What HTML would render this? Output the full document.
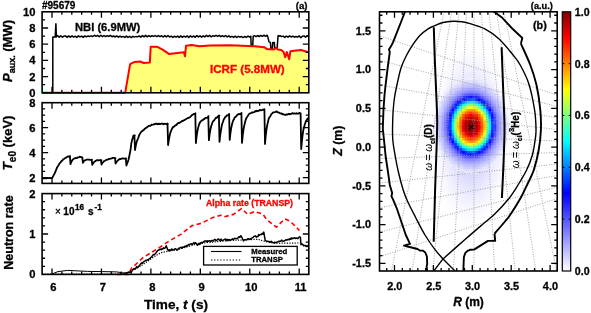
<!DOCTYPE html>
<html><head><meta charset="utf-8"><style>html,body{margin:0;padding:0;background:#fff;width:591px;height:313px;overflow:hidden;position:relative}svg{will-change:transform}text{stroke-width:0.3px}text:not([stroke]){stroke:#000}</style></head><body>
<svg width="591" height="313" viewBox="0 0 591 313" style="position:absolute;left:0;top:0">
<g font-family='"Liberation Sans", sans-serif'>
<polygon points="42.10,92.80 125.20,92.80 130.10,64.10 134.60,61.90 140.20,61.50 143.60,63.00 149.80,62.60 150.70,47.00 151.40,46.70 157.00,46.70 162.60,49.60 169.30,54.10 177.10,53.00 183.80,52.30 185.00,56.30 186.00,45.80 191.70,45.10 199.50,46.30 210.00,45.60 230.00,45.30 254.60,46.20 264.20,47.20 267.00,49.10 272.80,49.60 276.70,48.10 278.00,49.60 281.20,50.00 283.60,52.00 285.20,57.20 286.80,52.00 289.20,59.20 290.40,51.20 294.00,50.80 301.10,50.00 307.50,52.00 308.80,52.00 308.80,92.80" fill="#ffff78" stroke="none"/>
<polyline points="42.10,92.80 52.80,92.80 52.80,37.00 55.20,37.00 55.90,23.80 56.40,37.00 56.00,36.80 57.60,35.65 59.20,37.17 60.80,35.73 62.40,37.22 64.00,36.05 65.60,35.88 67.20,37.33 68.80,35.92 70.40,37.30 72.00,35.94 73.60,37.04 75.20,36.15 76.80,37.49 78.40,35.85 80.00,36.96 81.60,36.08 83.20,37.34 84.80,35.90 86.40,36.81 88.00,36.05 89.60,36.43 91.20,35.84 92.80,36.49 94.40,35.25 96.00,36.30 97.60,35.32 99.20,36.77 100.80,35.23 102.40,36.64 104.00,35.61 105.60,36.56 107.20,35.64 108.80,36.46 110.40,35.42 112.00,36.70 113.60,36.00 115.20,36.99 116.80,35.88 118.40,37.23 120.00,36.09 121.60,37.13 123.20,36.42 124.80,37.47 126.40,36.07 128.00,37.40 129.60,36.25 131.20,37.57 132.80,36.34 134.40,37.08 136.00,36.41 137.60,36.85 139.20,35.89 140.80,37.16 142.40,35.56 144.00,36.83 145.60,35.35 147.20,36.83 148.80,35.74 150.40,36.66 152.00,35.74 153.60,36.43 155.20,35.59 156.80,36.62 158.40,35.53 160.00,36.57 161.60,35.78 163.20,37.00 164.80,35.63 166.40,36.92 168.00,35.47 169.60,37.09 171.20,36.02 172.80,37.43 174.40,36.28 176.00,37.06 177.60,36.08 179.20,37.42 180.80,35.89 182.40,37.32 184.00,36.02 185.60,37.07 187.20,35.91 188.80,37.48 190.40,35.89 192.00,37.02 193.60,35.96 195.20,37.33 196.80,35.61 198.40,36.89 200.00,35.79 201.60,37.06 203.20,35.85 204.80,36.93 206.40,35.37 208.00,36.53 209.60,35.37 211.20,36.82 212.80,35.77 214.40,36.32 216.00,35.26 217.60,36.44 219.20,35.38 220.80,36.71 222.40,35.75 224.00,36.69 225.60,35.48 227.20,36.94 228.80,35.87 230.40,37.18 232.00,36.41 233.60,37.38 235.20,36.20 236.80,37.40 238.40,36.36 240.00,37.04 241.60,36.53 243.20,37.53 244.80,36.46 246.40,37.47 248.00,36.04 249.60,37.09 250.80,36.20 251.20,46.20 252.70,46.20 253.20,36.20 254.40,35.55 256.00,36.58 257.60,35.51 259.20,36.51 260.80,35.48 262.40,36.33 264.00,35.15 265.60,36.33 267.20,35.18 268.00,37.60 269.00,41.90 270.40,42.40 270.90,48.60 272.30,48.60 272.80,42.40 274.30,42.40 274.70,48.10 277.10,48.10 278.10,35.50 278.40,36.66 280.00,35.63 281.60,36.64 283.20,36.11 284.80,37.39 286.40,35.98 288.00,37.16 289.60,35.84 291.20,36.99 292.80,36.10 294.40,37.17 296.00,36.48 297.60,37.11 299.20,35.90 300.80,37.63 302.40,36.20 304.00,35.88 305.60,37.21 307.20,35.68 308.80,36.60" fill="none" stroke="#000" stroke-width="1.5" stroke-linejoin="round" stroke-linecap="butt" />
<polyline points="42.10,92.80 125.20,92.80 130.10,64.10 134.60,61.90 140.20,61.50 143.60,63.00 149.80,62.60 150.70,47.00 151.40,46.70 157.00,46.70 162.60,49.60 169.30,54.10 177.10,53.00 183.80,52.30 185.00,56.30 186.00,45.80 191.70,45.10 199.50,46.30 210.00,45.60 230.00,45.30 254.60,46.20 264.20,47.20 267.00,49.10 272.80,49.60 276.70,48.10 278.00,49.60 281.20,50.00 283.60,52.00 285.20,57.20 286.80,52.00 289.20,59.20 290.40,51.20 294.00,50.80 301.10,50.00 307.50,52.00 308.80,52.00" fill="none" stroke="#ff0000" stroke-width="2.0" stroke-linejoin="round" stroke-linecap="butt" />
<path d="M42.1,76.60h6M308.8,76.60h-6M42.1,60.40h6M308.8,60.40h-6M42.1,44.20h6M308.8,44.20h-6M42.1,28.00h6M308.8,28.00h-6M42.1,84.70h3M308.8,84.70h-3M42.1,68.50h3M308.8,68.50h-3M42.1,52.30h3M308.8,52.30h-3M42.1,36.10h3M308.8,36.10h-3M42.1,19.90h3M308.8,19.90h-3M52.00,11.8v6M52.00,92.8v-6M101.44,11.8v6M101.44,92.8v-6M150.88,11.8v6M150.88,92.8v-6M200.32,11.8v6M200.32,92.8v-6M249.76,11.8v6M249.76,92.8v-6M299.20,11.8v6M299.20,92.8v-6M61.89,11.8v3M61.89,92.8v-3M71.78,11.8v3M71.78,92.8v-3M81.66,11.8v3M81.66,92.8v-3M91.55,11.8v3M91.55,92.8v-3M111.33,11.8v3M111.33,92.8v-3M121.22,11.8v3M121.22,92.8v-3M131.10,11.8v3M131.10,92.8v-3M140.99,11.8v3M140.99,92.8v-3M160.77,11.8v3M160.77,92.8v-3M170.66,11.8v3M170.66,92.8v-3M180.54,11.8v3M180.54,92.8v-3M190.43,11.8v3M190.43,92.8v-3M210.21,11.8v3M210.21,92.8v-3M220.10,11.8v3M220.10,92.8v-3M229.98,11.8v3M229.98,92.8v-3M239.87,11.8v3M239.87,92.8v-3M259.65,11.8v3M259.65,92.8v-3M269.54,11.8v3M269.54,92.8v-3M279.42,11.8v3M279.42,92.8v-3M289.31,11.8v3M289.31,92.8v-3" stroke="#000" stroke-width="1.3" fill="none"/>
<rect x="42.1" y="11.8" width="266.70" height="81.00" fill="none" stroke="#000" stroke-width="1.6"/>
<text x="75" y="30.7" font-size="11.2" text-anchor="start" fill="#000" stroke="#000" font-weight="bold"  style="">NBI (6.9MW)</text>
<text x="210" y="73" font-size="11.6" text-anchor="start" fill="#ff0000" stroke="#ff0000" font-weight="bold"  style="">ICRF (5.8MW)</text>
<polyline points="42.10,178.13 42.80,178.38 43.50,178.34 44.20,178.25 44.90,178.10 45.60,178.38 46.30,178.37 47.00,178.21 47.70,178.19 48.40,178.04 49.10,177.91 49.80,178.08 50.50,178.18 51.20,177.90 51.90,178.25 52.60,177.23 53.30,175.94 54.00,174.56 54.70,173.39 55.40,171.57 56.10,169.94 56.80,168.19 57.50,166.74 58.20,165.73 58.90,164.66 59.60,163.30 60.30,162.79 61.00,161.75 61.70,160.89 62.40,160.46 63.10,159.36 63.80,159.06 64.50,158.45 65.20,158.12 65.90,157.64 66.60,157.33 67.30,156.80 68.00,156.44 68.70,156.64 69.40,156.11 70.10,156.16 69.90,156.09 70.50,164.20 70.51,164.02 71.21,162.35 71.91,160.87 72.61,159.81 73.31,159.14 74.01,158.62 74.71,158.43 75.41,157.99 76.11,158.13 76.81,158.14 77.51,157.48 78.21,157.53 78.91,157.22 79.61,156.71 80.31,156.82 81.01,157.05 81.71,157.22 82.41,157.73 82.30,157.41 82.90,162.90 82.91,162.82 83.61,161.40 84.31,160.59 85.01,160.33 85.71,160.12 86.41,159.66 87.11,159.56 87.81,159.58 88.51,159.72 89.21,159.54 89.91,159.85 90.61,159.81 91.31,159.82 92.01,159.59 91.70,159.66 92.30,164.90 92.31,164.71 93.01,163.41 93.71,162.69 94.41,161.68 95.11,161.28 95.81,160.76 96.51,160.40 97.21,160.19 97.91,160.44 98.61,160.33 99.31,160.08 100.01,160.20 100.71,160.17 101.41,160.28 100.90,159.98 101.50,164.30 101.51,164.51 102.21,163.00 102.91,162.38 103.61,161.69 104.31,160.99 105.01,160.74 105.71,160.25 106.41,159.95 107.11,159.68 107.81,159.72 108.51,159.11 109.21,158.82 109.91,158.97 110.61,158.74 111.31,158.39 112.01,158.37 112.71,157.78 113.41,157.86 114.11,157.98 114.81,158.15 115.51,158.13 115.00,158.21 115.60,163.70 115.61,163.46 116.31,162.13 117.01,161.34 117.71,160.61 118.41,159.93 119.11,159.38 119.81,158.97 120.51,159.11 121.21,158.73 121.91,158.72 122.61,158.29 123.31,158.32 124.01,158.59 124.71,158.53 125.41,158.55 126.11,158.40 125.80,158.30 126.40,165.60 126.41,165.53 127.11,163.40 127.81,161.84 128.51,159.80 129.21,156.51 129.91,153.00 130.61,149.30 131.31,143.33 132.01,140.12 132.71,138.37 133.41,135.57 134.11,135.50 134.81,135.49 134.40,135.20 135.00,149.80 135.01,150.06 135.71,146.03 136.41,142.76 137.11,140.54 137.81,139.04 138.51,137.27 139.21,135.13 139.91,133.86 140.61,132.78 141.31,131.77 142.01,131.29 142.71,130.31 143.41,130.35 144.11,129.59 144.81,128.58 145.51,128.44 146.21,127.75 146.91,127.42 147.61,126.70 148.31,126.25 149.01,125.92 149.71,125.76 150.41,125.73 151.11,125.26 151.81,124.48 152.51,124.75 153.21,124.57 153.91,124.26 154.61,124.26 155.31,123.55 156.01,123.95 156.71,123.59 157.41,124.21 158.11,123.67 158.81,124.15 159.51,123.73 160.21,124.13 160.91,123.77 161.61,123.52 162.31,123.83 163.01,123.75 163.71,124.28 164.41,123.73 165.11,123.91 165.81,123.95 166.51,124.30 167.21,123.54 167.91,123.99 167.50,123.90 168.10,145.00 168.11,144.93 168.81,140.20 169.51,136.64 170.21,133.18 170.91,131.35 171.61,129.53 172.31,128.30 173.01,126.89 173.71,126.84 174.41,126.44 175.11,125.47 175.81,125.07 176.51,125.09 177.21,123.76 177.91,123.25 178.61,122.80 179.31,123.04 180.01,122.59 180.71,121.93 181.41,121.71 182.11,120.80 182.81,121.01 183.51,120.47 184.21,120.18 184.91,119.72 185.61,119.39 186.31,118.88 187.01,118.38 187.71,118.39 188.41,117.82 189.11,117.69 189.81,117.25 190.51,116.62 191.21,115.84 191.91,115.10 192.61,114.69 193.31,114.24 194.01,113.91 194.71,114.14 195.41,113.28 195.30,113.66 195.90,143.10 195.91,142.97 196.61,136.48 197.31,131.82 198.01,128.36 198.71,125.60 199.41,123.54 200.11,122.28 200.81,121.26 201.51,120.81 202.21,120.29 202.91,120.10 203.61,119.11 204.31,119.14 205.01,118.17 205.71,117.95 206.41,117.77 207.11,117.56 207.81,117.28 208.51,116.11 208.30,116.38 208.90,140.20 208.91,139.94 209.61,134.37 210.31,130.19 211.01,126.75 211.71,124.67 212.41,122.39 213.11,121.19 213.81,120.71 214.51,119.74 215.21,118.81 215.91,117.74 216.61,117.87 217.31,117.11 218.01,116.19 218.71,115.88 219.41,115.78 218.90,115.41 219.50,141.90 219.51,141.96 220.21,135.16 220.91,130.85 221.61,126.48 222.31,123.48 223.01,121.73 223.71,119.40 224.41,118.56 225.11,117.10 225.81,116.65 226.51,115.73 227.21,115.33 227.91,115.43 228.61,114.69 229.31,114.40 229.10,113.86 229.70,139.80 229.71,139.81 230.41,133.42 231.11,128.68 231.81,125.33 232.51,122.54 233.21,120.41 233.91,119.54 234.61,117.49 235.31,117.19 236.01,116.52 236.71,115.70 237.41,114.59 238.11,114.63 238.81,113.90 239.51,114.16 240.21,114.03 240.91,113.43 241.61,113.06 241.40,113.26 242.00,142.90 242.01,142.82 242.71,135.35 243.41,130.13 244.11,126.10 244.81,123.30 245.51,120.37 246.21,118.26 246.91,117.38 247.61,116.27 248.31,115.11 249.01,113.98 249.71,113.55 250.41,113.25 251.11,112.99 251.81,112.35 252.51,112.59 253.21,112.37 253.91,112.23 254.61,111.99 255.31,111.03 256.01,111.36 256.71,110.73 257.41,111.29 258.11,110.98 258.81,110.83 259.51,110.15 260.21,109.87 260.91,110.39 261.61,110.05 262.31,109.91 263.01,109.62 263.71,109.76 264.41,109.19 264.40,109.33 265.00,143.90 265.01,143.56 265.71,135.80 266.41,129.84 267.11,125.70 267.81,122.62 268.51,119.42 269.21,117.62 269.91,116.72 270.61,115.64 271.31,114.22 272.01,113.54 272.71,112.76 273.41,112.29 274.11,112.34 274.81,112.23 275.51,111.98 276.21,111.36 276.91,111.49 277.61,112.47 278.31,112.39 279.01,112.55 279.71,113.09 280.41,113.43 281.11,113.55 281.81,113.46 282.51,114.45 283.21,114.22 283.91,114.38 284.61,114.84 285.31,114.85 286.01,114.79 286.71,114.24 287.41,114.57 288.11,114.23 288.81,113.79 289.51,114.26 290.21,114.07 290.91,114.02 291.61,113.67 292.31,113.11 293.01,113.55 293.71,113.66 294.41,113.33 295.11,113.67 295.81,113.72 296.51,113.20 297.21,113.70 297.91,113.69 298.61,113.56 299.31,112.86 300.01,113.17 300.71,113.40 300.60,113.30 301.20,149.00 301.21,148.97 301.91,141.11 302.61,135.00 303.31,130.07 304.01,127.43 304.71,124.62 305.41,122.89 306.11,120.58 306.81,119.98 307.51,118.57 308.21,117.99" fill="none" stroke="#000" stroke-width="1.8" stroke-linejoin="round" stroke-linecap="butt" />
<path d="M42.1,177.70h6M308.8,177.70h-6M42.1,152.70h6M308.8,152.70h-6M42.1,127.70h6M308.8,127.70h-6M42.1,171.45h3M308.8,171.45h-3M42.1,165.20h3M308.8,165.20h-3M42.1,158.95h3M308.8,158.95h-3M42.1,146.45h3M308.8,146.45h-3M42.1,140.20h3M308.8,140.20h-3M42.1,133.95h3M308.8,133.95h-3M42.1,121.45h3M308.8,121.45h-3M42.1,115.20h3M308.8,115.20h-3M42.1,108.95h3M308.8,108.95h-3M52.00,102.7v6M52.00,183.4v-6M101.44,102.7v6M101.44,183.4v-6M150.88,102.7v6M150.88,183.4v-6M200.32,102.7v6M200.32,183.4v-6M249.76,102.7v6M249.76,183.4v-6M299.20,102.7v6M299.20,183.4v-6M61.89,102.7v3M61.89,183.4v-3M71.78,102.7v3M71.78,183.4v-3M81.66,102.7v3M81.66,183.4v-3M91.55,102.7v3M91.55,183.4v-3M111.33,102.7v3M111.33,183.4v-3M121.22,102.7v3M121.22,183.4v-3M131.10,102.7v3M131.10,183.4v-3M140.99,102.7v3M140.99,183.4v-3M160.77,102.7v3M160.77,183.4v-3M170.66,102.7v3M170.66,183.4v-3M180.54,102.7v3M180.54,183.4v-3M190.43,102.7v3M190.43,183.4v-3M210.21,102.7v3M210.21,183.4v-3M220.10,102.7v3M220.10,183.4v-3M229.98,102.7v3M229.98,183.4v-3M239.87,102.7v3M239.87,183.4v-3M259.65,102.7v3M259.65,183.4v-3M269.54,102.7v3M269.54,183.4v-3M279.42,102.7v3M279.42,183.4v-3M289.31,102.7v3M289.31,183.4v-3" stroke="#000" stroke-width="1.3" fill="none"/>
<rect x="42.1" y="102.7" width="266.70" height="80.70" fill="none" stroke="#000" stroke-width="1.6"/>
<polyline points="116.70,274.40 128.30,274.40 131.60,268.20 143.30,257.40 160.00,247.20 169.60,240.80 180.80,234.40 192.00,225.60 201.60,223.20 212.70,217.60 220.70,215.20 224.00,216.80 233.50,214.40 241.50,208.60 247.90,214.40 254.50,211.60 262.80,214.10 267.00,219.90 276.40,227.20 284.70,218.90 289.90,221.00 299.50,230.50" fill="none" stroke="#ff0000" stroke-width="1.6" stroke-linejoin="round" stroke-linecap="butt" stroke-dasharray="4.5,3"/>
<polyline points="42.10,274.20 116.00,274.20 125.00,273.50 140.00,266.50 154.00,256.80 160.80,252.70 167.60,251.40 180.00,249.00 195.00,244.50 205.00,242.80 230.00,240.50 258.00,239.30 265.00,241.50 275.00,243.20 300.00,243.00" fill="none" stroke="#000" stroke-width="1.2" stroke-linejoin="round" stroke-linecap="butt" stroke-dasharray="1.2,1.4"/>
<polyline points="51.90,274.00 58.00,271.60 67.90,270.40 87.70,271.40 102.90,271.60 116.60,271.90 124.00,273.00" fill="none" stroke="#000" stroke-width="1.0" stroke-linejoin="round" stroke-linecap="butt" />
<polyline points="124.00,272.91 124.86,273.02 125.71,273.59 126.57,272.68 127.43,272.67 128.29,272.73 129.14,271.92 130.00,272.42 130.82,272.01 131.65,271.68 132.47,269.79 133.30,269.55 134.12,268.54 134.95,269.21 135.78,268.37 136.60,266.58 137.43,267.64 138.25,266.99 139.08,265.80 139.90,265.11 140.74,263.73 141.58,262.91 142.43,263.28 143.27,261.87 144.11,261.55 144.95,261.09 145.79,260.15 146.63,260.37 147.47,259.77 148.32,259.93 149.16,258.79 150.00,258.45 150.85,257.35 151.70,256.79 152.55,255.57 153.40,254.40 154.25,254.85 155.10,253.99 155.95,252.86 156.80,251.77 157.65,250.64 158.51,250.06 159.36,249.74 160.22,248.92 161.07,249.74 161.93,248.66 162.78,249.03 163.64,247.78 164.49,248.38 165.35,247.75 166.20,245.80 167.60,249.48 168.45,250.68 169.31,249.84 170.16,250.70 171.02,249.60 171.87,248.96 172.73,249.91 173.58,250.12 174.44,249.15 175.29,248.77 176.15,249.15 177.00,250.24 177.82,249.59 178.64,248.17 179.46,248.13 180.28,247.60 181.10,247.26 181.92,248.31 182.74,246.93 183.56,247.35 184.38,246.88 185.20,246.14 186.06,246.74 186.93,245.29 187.79,245.84 188.65,244.52 189.52,244.69 190.38,243.95 191.25,243.68 192.11,244.57 192.97,243.89 193.84,242.62 194.70,243.29 195.60,242.75 196.50,243.74 197.40,245.24 198.24,244.52 199.07,243.21 199.91,244.47 200.75,242.73 201.59,242.48 202.43,243.07 203.26,241.93 204.10,241.53 204.95,240.99 205.80,240.87 206.65,241.62 207.50,240.86 208.35,241.36 209.20,240.81 210.05,240.81 210.90,241.58 211.75,240.58 212.60,240.60 213.45,240.98 214.30,239.60 215.15,239.41 216.00,240.62 216.85,240.32 217.70,239.15 218.52,239.07 219.34,240.08 220.16,240.47 220.98,239.16 221.80,240.54 222.62,240.45 223.44,239.97 224.26,239.67 225.08,239.13 225.90,239.04 226.72,240.73 227.54,239.45 228.36,240.31 229.18,239.54 230.00,240.58 230.90,239.99 231.80,239.26 232.70,238.87 233.60,239.66 234.50,238.31 235.40,238.41 236.30,238.56 237.20,238.63 238.10,237.76 239.00,236.70 239.90,237.40 240.80,235.67 241.70,236.93 242.60,238.98 243.50,240.90 244.35,239.87 245.20,239.74 246.05,239.75 246.90,239.78 247.75,238.65 248.60,238.73 249.45,239.34 250.30,239.16 251.15,238.32 252.00,238.12 252.85,237.66 253.70,236.60 254.55,236.15 255.40,235.86 256.25,237.20 257.10,236.56 257.94,236.62 258.78,234.51 259.61,235.21 260.45,234.52 261.29,234.55 262.12,233.40 262.96,234.21 263.80,232.14 265.20,240.38 266.06,240.91 266.93,241.38 267.79,241.27 268.65,241.39 269.52,241.74 270.38,242.14 271.25,241.31 272.11,242.09 272.97,242.66 273.84,242.79 274.70,242.15 275.55,242.64 276.41,242.59 277.26,241.89 278.12,241.80 278.97,241.18 279.83,241.36 280.68,241.22 281.54,240.09 282.39,240.91 283.25,241.37 284.10,240.98 284.96,240.53 285.83,239.74 286.69,240.18 287.55,239.72 288.42,239.28 289.28,239.82 290.15,238.28 291.01,239.30 291.87,237.82 292.74,238.66 293.60,238.27 294.45,237.73 295.30,238.48 296.15,238.03 297.00,238.16 297.85,238.62 298.70,237.34 299.55,236.81 300.40,237.24 301.00,244.72 301.87,244.09 302.73,244.25 303.60,245.80 304.47,245.58 305.33,245.41 306.20,246.44 307.07,245.64 307.93,246.48 308.80,246.40" fill="none" stroke="#000" stroke-width="1.5" stroke-linejoin="round" stroke-linecap="butt" />
<path d="M42.1,234.00h6M308.8,234.00h-6M42.1,266.32h3M308.8,266.32h-3M42.1,258.24h3M308.8,258.24h-3M42.1,250.16h3M308.8,250.16h-3M42.1,242.08h3M308.8,242.08h-3M42.1,225.92h3M308.8,225.92h-3M42.1,217.84h3M308.8,217.84h-3M42.1,209.76h3M308.8,209.76h-3M42.1,201.68h3M308.8,201.68h-3M52.00,193.6v6M52.00,274.4v-6M101.44,193.6v6M101.44,274.4v-6M150.88,193.6v6M150.88,274.4v-6M200.32,193.6v6M200.32,274.4v-6M249.76,193.6v6M249.76,274.4v-6M299.20,193.6v6M299.20,274.4v-6M61.89,193.6v3M61.89,274.4v-3M71.78,193.6v3M71.78,274.4v-3M81.66,193.6v3M81.66,274.4v-3M91.55,193.6v3M91.55,274.4v-3M111.33,193.6v3M111.33,274.4v-3M121.22,193.6v3M121.22,274.4v-3M131.10,193.6v3M131.10,274.4v-3M140.99,193.6v3M140.99,274.4v-3M160.77,193.6v3M160.77,274.4v-3M170.66,193.6v3M170.66,274.4v-3M180.54,193.6v3M180.54,274.4v-3M190.43,193.6v3M190.43,274.4v-3M210.21,193.6v3M210.21,274.4v-3M220.10,193.6v3M220.10,274.4v-3M229.98,193.6v3M229.98,274.4v-3M239.87,193.6v3M239.87,274.4v-3M259.65,193.6v3M259.65,274.4v-3M269.54,193.6v3M269.54,274.4v-3M279.42,193.6v3M279.42,274.4v-3M289.31,193.6v3M289.31,274.4v-3" stroke="#000" stroke-width="1.3" fill="none"/>
<rect x="42.1" y="193.6" width="266.70" height="80.80" fill="none" stroke="#000" stroke-width="1.6"/>
<rect x="203.6" y="246.4" width="93.6" height="18.6" fill="#fff" stroke="#000" stroke-width="1.3"/>
<path d="M211,251.5H241.5" stroke="#000" stroke-width="1.1"/>
<path d="M211,260H241.5" stroke="#000" stroke-width="1.1" stroke-dasharray="1.3,1.8"/>
<text x="251.3" y="254.1" font-size="7.7" text-anchor="start" fill="#000" stroke="#000" font-weight="bold"  style="">Measured</text>
<text x="251.3" y="262.3" font-size="7.7" text-anchor="start" fill="#000" stroke="#000" font-weight="bold"  style="">TRANSP</text>
<text x="206" y="206.3" font-size="8.75" text-anchor="start" fill="#ff0000" stroke="#ff0000" font-weight="bold"  style="">Alpha rate (TRANSP)</text>
<text x="55" y="214.8" font-size="10" fill="#000"><tspan font-weight="normal">×</tspan><tspan font-weight="bold" dx="2.5">10</tspan><tspan font-weight="bold" font-size="8.2" dy="-5" dx="0.5">16</tspan><tspan font-weight="bold" dy="5" dx="4">s</tspan><tspan font-weight="bold" font-size="8.2" dy="-5" dx="0.8">-1</tspan></text>
<text x="35.5" y="15.799999999999997" font-size="11.2" text-anchor="end" fill="#000" stroke="#000" font-weight="bold"  style="">10</text>
<text x="35.5" y="32.0" font-size="11.2" text-anchor="end" fill="#000" stroke="#000" font-weight="bold"  style="">8</text>
<text x="35.5" y="48.2" font-size="11.2" text-anchor="end" fill="#000" stroke="#000" font-weight="bold"  style="">6</text>
<text x="35.5" y="64.4" font-size="11.2" text-anchor="end" fill="#000" stroke="#000" font-weight="bold"  style="">4</text>
<text x="35.5" y="80.6" font-size="11.2" text-anchor="end" fill="#000" stroke="#000" font-weight="bold"  style="">2</text>
<text x="35.5" y="96.8" font-size="11.2" text-anchor="end" fill="#000" stroke="#000" font-weight="bold"  style="">0</text>
<text x="35.5" y="106.7" font-size="11.2" text-anchor="end" fill="#000" stroke="#000" font-weight="bold"  style="">8</text>
<text x="35.5" y="131.7" font-size="11.2" text-anchor="end" fill="#000" stroke="#000" font-weight="bold"  style="">6</text>
<text x="35.5" y="156.7" font-size="11.2" text-anchor="end" fill="#000" stroke="#000" font-weight="bold"  style="">4</text>
<text x="35.5" y="181.7" font-size="11.2" text-anchor="end" fill="#000" stroke="#000" font-weight="bold"  style="">2</text>
<text x="35.5" y="197.59999999999997" font-size="11.2" text-anchor="end" fill="#000" stroke="#000" font-weight="bold"  style="">2</text>
<text x="35.5" y="237.99999999999997" font-size="11.2" text-anchor="end" fill="#000" stroke="#000" font-weight="bold"  style="">1</text>
<text x="35.5" y="278.4" font-size="11.2" text-anchor="end" fill="#000" stroke="#000" font-weight="bold"  style="">0</text>
<text x="53.4" y="290.6" font-size="11.2" text-anchor="middle" fill="#000" stroke="#000" font-weight="bold"  style="">6</text>
<text x="102.84" y="290.6" font-size="11.2" text-anchor="middle" fill="#000" stroke="#000" font-weight="bold"  style="">7</text>
<text x="152.28" y="290.6" font-size="11.2" text-anchor="middle" fill="#000" stroke="#000" font-weight="bold"  style="">8</text>
<text x="201.72" y="290.6" font-size="11.2" text-anchor="middle" fill="#000" stroke="#000" font-weight="bold"  style="">9</text>
<text x="251.16" y="290.6" font-size="11.2" text-anchor="middle" fill="#000" stroke="#000" font-weight="bold"  style="">10</text>
<text x="300.59999999999997" y="290.6" font-size="11.2" text-anchor="middle" fill="#000" stroke="#000" font-weight="bold"  style="">11</text>
<text x="176" y="308.5" font-size="13.6" font-weight="bold" text-anchor="middle">Time, <tspan font-style="italic">t</tspan> (s)</text>
<text x="42.0" y="8.8" font-size="10.0" text-anchor="start" fill="#000" stroke="#000" font-weight="bold"  style="">#95679</text>
<text x="307.5" y="9.2" font-size="9.6" text-anchor="end" fill="#000" stroke="#000" font-weight="bold"  style="">(a)</text>
<text transform="translate(11.5,51) rotate(-90)" font-size="13" font-weight="bold" text-anchor="middle"><tspan font-style="italic">P</tspan><tspan font-size="9" dy="3.0">aux.</tspan><tspan dy="-3.0"> (MW)</tspan></text>
<text transform="translate(12.3,143) rotate(-90)" font-size="13" font-weight="bold" text-anchor="middle"><tspan font-style="italic" font-size="13.5">T</tspan><tspan font-size="10" dy="3.8">e0</tspan><tspan dy="-3.8"> (keV)</tspan></text>
<text transform="translate(12.6,232.5) rotate(-90)" font-size="12.5" font-weight="bold" text-anchor="middle">Neutron rate</text>
<defs><linearGradient id="cbar" x1="0" y1="0" x2="0" y2="1"><stop offset="0.000" stop-color="#800000"/><stop offset="0.025" stop-color="#a00000"/><stop offset="0.050" stop-color="#c00000"/><stop offset="0.075" stop-color="#df0000"/><stop offset="0.100" stop-color="#ff0000"/><stop offset="0.125" stop-color="#ff2000"/><stop offset="0.150" stop-color="#ff4000"/><stop offset="0.175" stop-color="#ff6000"/><stop offset="0.200" stop-color="#ff8000"/><stop offset="0.225" stop-color="#ffa000"/><stop offset="0.250" stop-color="#ffc000"/><stop offset="0.275" stop-color="#ffdf00"/><stop offset="0.300" stop-color="#ffff00"/><stop offset="0.325" stop-color="#dfff20"/><stop offset="0.350" stop-color="#c0ff40"/><stop offset="0.375" stop-color="#a0ff60"/><stop offset="0.400" stop-color="#80ff80"/><stop offset="0.425" stop-color="#60ffa0"/><stop offset="0.450" stop-color="#40ffbf"/><stop offset="0.475" stop-color="#20ffdf"/><stop offset="0.500" stop-color="#00ffff"/><stop offset="0.525" stop-color="#00dfff"/><stop offset="0.550" stop-color="#00bfff"/><stop offset="0.575" stop-color="#009fff"/><stop offset="0.600" stop-color="#0080ff"/><stop offset="0.625" stop-color="#0060ff"/><stop offset="0.650" stop-color="#0040ff"/><stop offset="0.675" stop-color="#0020ff"/><stop offset="0.700" stop-color="#0000ff"/><stop offset="0.725" stop-color="#1515ff"/><stop offset="0.750" stop-color="#2a2aff"/><stop offset="0.775" stop-color="#4040ff"/><stop offset="0.800" stop-color="#5555ff"/><stop offset="0.825" stop-color="#6a6aff"/><stop offset="0.850" stop-color="#7f7fff"/><stop offset="0.875" stop-color="#9595ff"/><stop offset="0.900" stop-color="#aaaaff"/><stop offset="0.925" stop-color="#bfbfff"/><stop offset="0.950" stop-color="#d4d4ff"/><stop offset="0.975" stop-color="#eaeaff"/><stop offset="1.000" stop-color="#ffffff"/></linearGradient><radialGradient id="halo" gradientUnits="userSpaceOnUse" cx="0" cy="0" r="1" gradientTransform="translate(471,135) scale(44,100)"><stop offset="0" stop-color="#9090ff" stop-opacity="0.7"/><stop offset="0.4" stop-color="#a8a8ff" stop-opacity="0.45"/><stop offset="0.7" stop-color="#c8c8ff" stop-opacity="0.22"/><stop offset="1" stop-color="#ffffff" stop-opacity="0"/></radialGradient><radialGradient id="blob" gradientUnits="userSpaceOnUse" cx="0" cy="0" r="1" gradientTransform="translate(471.2,127) scale(48.0,69.60)"><stop offset="0.0000" stop-color="#800000" stop-opacity="1.000"/><stop offset="0.0167" stop-color="#860000" stop-opacity="1.000"/><stop offset="0.0333" stop-color="#8c0000" stop-opacity="1.000"/><stop offset="0.0500" stop-color="#920000" stop-opacity="1.000"/><stop offset="0.0667" stop-color="#980000" stop-opacity="1.000"/><stop offset="0.0833" stop-color="#9e0000" stop-opacity="1.000"/><stop offset="0.1000" stop-color="#a50000" stop-opacity="1.000"/><stop offset="0.1167" stop-color="#b10000" stop-opacity="1.000"/><stop offset="0.1333" stop-color="#c00000" stop-opacity="1.000"/><stop offset="0.1500" stop-color="#ce0000" stop-opacity="1.000"/><stop offset="0.1667" stop-color="#dd0000" stop-opacity="1.000"/><stop offset="0.1833" stop-color="#ee0000" stop-opacity="1.000"/><stop offset="0.2000" stop-color="#ff0600" stop-opacity="1.000"/><stop offset="0.2167" stop-color="#ff1c00" stop-opacity="1.000"/><stop offset="0.2333" stop-color="#ff3300" stop-opacity="1.000"/><stop offset="0.2500" stop-color="#ff6600" stop-opacity="1.000"/><stop offset="0.2667" stop-color="#ff9900" stop-opacity="1.000"/><stop offset="0.2833" stop-color="#ffcc00" stop-opacity="1.000"/><stop offset="0.3000" stop-color="#ffff00" stop-opacity="1.000"/><stop offset="0.3167" stop-color="#c0ff40" stop-opacity="1.000"/><stop offset="0.3333" stop-color="#80ff80" stop-opacity="1.000"/><stop offset="0.3500" stop-color="#40ffbf" stop-opacity="1.000"/><stop offset="0.3667" stop-color="#00ffff" stop-opacity="1.000"/><stop offset="0.3833" stop-color="#00b3ff" stop-opacity="1.000"/><stop offset="0.4000" stop-color="#0068ff" stop-opacity="1.000"/><stop offset="0.4167" stop-color="#001cff" stop-opacity="1.000"/><stop offset="0.4333" stop-color="#1d1dff" stop-opacity="1.000"/><stop offset="0.4500" stop-color="#3535ff" stop-opacity="1.000"/><stop offset="0.4667" stop-color="#4e4eff" stop-opacity="1.000"/><stop offset="0.4833" stop-color="#6767ff" stop-opacity="1.000"/><stop offset="0.5000" stop-color="#8080ff" stop-opacity="1.000"/><stop offset="0.5167" stop-color="#8989ff" stop-opacity="1.000"/><stop offset="0.5333" stop-color="#9292ff" stop-opacity="1.000"/><stop offset="0.5500" stop-color="#9b9bff" stop-opacity="1.000"/><stop offset="0.5667" stop-color="#a4a4ff" stop-opacity="1.000"/><stop offset="0.5833" stop-color="#adadff" stop-opacity="1.000"/><stop offset="0.6000" stop-color="#b6b6ff" stop-opacity="1.000"/><stop offset="0.6167" stop-color="#bfbfff" stop-opacity="1.000"/><stop offset="0.6333" stop-color="#c5c5ff" stop-opacity="1.000"/><stop offset="0.6500" stop-color="#c8c8ff" stop-opacity="1.000"/><stop offset="0.6667" stop-color="#cbcbff" stop-opacity="1.000"/><stop offset="0.6833" stop-color="#ceceff" stop-opacity="1.000"/><stop offset="0.7000" stop-color="#d1d1ff" stop-opacity="1.000"/><stop offset="0.7167" stop-color="#d4d4ff" stop-opacity="1.000"/><stop offset="0.7333" stop-color="#d7d7ff" stop-opacity="1.000"/><stop offset="0.7500" stop-color="#dadaff" stop-opacity="1.000"/><stop offset="0.7667" stop-color="#dedeff" stop-opacity="0.985"/><stop offset="0.7833" stop-color="#e1e1ff" stop-opacity="0.895"/><stop offset="0.8000" stop-color="#e4e4ff" stop-opacity="0.805"/><stop offset="0.8167" stop-color="#e7e7ff" stop-opacity="0.715"/><stop offset="0.8333" stop-color="#eaeaff" stop-opacity="0.625"/><stop offset="0.8500" stop-color="#ececff" stop-opacity="0.563"/><stop offset="0.8667" stop-color="#eeeeff" stop-opacity="0.500"/><stop offset="0.8833" stop-color="#f0f0ff" stop-opacity="0.438"/><stop offset="0.9000" stop-color="#f2f2ff" stop-opacity="0.375"/><stop offset="0.9167" stop-color="#f4f4ff" stop-opacity="0.312"/><stop offset="0.9333" stop-color="#f6f6ff" stop-opacity="0.250"/><stop offset="0.9500" stop-color="#f9f9ff" stop-opacity="0.187"/><stop offset="0.9667" stop-color="#fbfbff" stop-opacity="0.125"/><stop offset="0.9833" stop-color="#fdfdff" stop-opacity="0.062"/><stop offset="1.0000" stop-color="#ffffff" stop-opacity="0.000"/></radialGradient><clipPath id="rclip"><rect x="379.5" y="11.8" width="177.70" height="259.20"/></clipPath></defs>
<g clip-path="url(#rclip)">
<rect x="425" y="33" width="92" height="204" fill="url(#halo)"/>
<path d="M464.7,77.7h2.9v2.9h-2.9zM467.3,77.7h2.9v2.9h-2.9zM469.9,77.7h2.9v2.9h-2.9zM472.5,77.7h2.9v2.9h-2.9zM475.1,77.7h2.9v2.9h-2.9zM456.9,80.3h2.9v2.9h-2.9zM482.9,80.3h2.9v2.9h-2.9zM449.1,85.5h2.9v2.9h-2.9zM490.7,85.5h2.9v2.9h-2.9zM446.5,88.1h2.9v2.9h-2.9zM493.3,88.1h2.9v2.9h-2.9zM443.9,90.7h2.9v2.9h-2.9zM495.9,90.7h2.9v2.9h-2.9zM436.1,106.3h2.9v2.9h-2.9zM503.7,106.3h2.9v2.9h-2.9zM433.5,116.7h2.9v2.9h-2.9zM506.3,116.7h2.9v2.9h-2.9zM433.5,119.3h2.9v2.9h-2.9zM506.3,119.3h2.9v2.9h-2.9zM433.5,121.9h2.9v2.9h-2.9zM506.3,121.9h2.9v2.9h-2.9zM433.5,127.1h2.9v2.9h-2.9zM506.3,127.1h2.9v2.9h-2.9zM433.5,129.7h2.9v2.9h-2.9zM506.3,129.7h2.9v2.9h-2.9zM433.5,132.3h2.9v2.9h-2.9zM506.3,132.3h2.9v2.9h-2.9zM436.1,142.7h2.9v2.9h-2.9zM503.7,142.7h2.9v2.9h-2.9zM443.9,158.3h2.9v2.9h-2.9zM495.9,158.3h2.9v2.9h-2.9zM446.5,160.9h2.9v2.9h-2.9zM493.3,160.9h2.9v2.9h-2.9zM449.1,163.5h2.9v2.9h-2.9zM490.7,163.5h2.9v2.9h-2.9zM456.9,168.7h2.9v2.9h-2.9zM482.9,168.7h2.9v2.9h-2.9zM464.7,171.3h2.9v2.9h-2.9zM467.3,171.3h2.9v2.9h-2.9zM469.9,171.3h2.9v2.9h-2.9zM472.5,171.3h2.9v2.9h-2.9zM475.1,171.3h2.9v2.9h-2.9z" fill="#eeeeff"/>
<path d="M459.5,80.3h2.9v2.9h-2.9zM462.1,80.3h2.9v2.9h-2.9zM477.7,80.3h2.9v2.9h-2.9zM480.3,80.3h2.9v2.9h-2.9zM454.3,82.9h2.9v2.9h-2.9zM456.9,82.9h2.9v2.9h-2.9zM482.9,82.9h2.9v2.9h-2.9zM485.5,82.9h2.9v2.9h-2.9zM451.7,85.5h2.9v2.9h-2.9zM488.1,85.5h2.9v2.9h-2.9zM449.1,88.1h2.9v2.9h-2.9zM490.7,88.1h2.9v2.9h-2.9zM446.5,90.7h2.9v2.9h-2.9zM493.3,90.7h2.9v2.9h-2.9zM443.9,93.3h2.9v2.9h-2.9zM495.9,93.3h2.9v2.9h-2.9zM441.3,95.9h2.9v2.9h-2.9zM498.5,95.9h2.9v2.9h-2.9zM441.3,98.5h2.9v2.9h-2.9zM498.5,98.5h2.9v2.9h-2.9zM438.7,101.1h2.9v2.9h-2.9zM501.1,101.1h2.9v2.9h-2.9zM438.7,103.7h2.9v2.9h-2.9zM501.1,103.7h2.9v2.9h-2.9zM436.1,108.9h2.9v2.9h-2.9zM503.7,108.9h2.9v2.9h-2.9zM436.1,111.5h2.9v2.9h-2.9zM503.7,111.5h2.9v2.9h-2.9zM433.5,124.5h2.9v2.9h-2.9zM506.3,124.5h2.9v2.9h-2.9zM436.1,137.5h2.9v2.9h-2.9zM503.7,137.5h2.9v2.9h-2.9zM436.1,140.1h2.9v2.9h-2.9zM503.7,140.1h2.9v2.9h-2.9zM438.7,145.3h2.9v2.9h-2.9zM501.1,145.3h2.9v2.9h-2.9zM438.7,147.9h2.9v2.9h-2.9zM501.1,147.9h2.9v2.9h-2.9zM441.3,150.5h2.9v2.9h-2.9zM498.5,150.5h2.9v2.9h-2.9zM441.3,153.1h2.9v2.9h-2.9zM498.5,153.1h2.9v2.9h-2.9zM443.9,155.7h2.9v2.9h-2.9zM495.9,155.7h2.9v2.9h-2.9zM446.5,158.3h2.9v2.9h-2.9zM493.3,158.3h2.9v2.9h-2.9zM449.1,160.9h2.9v2.9h-2.9zM490.7,160.9h2.9v2.9h-2.9zM451.7,163.5h2.9v2.9h-2.9zM488.1,163.5h2.9v2.9h-2.9zM454.3,166.1h2.9v2.9h-2.9zM456.9,166.1h2.9v2.9h-2.9zM482.9,166.1h2.9v2.9h-2.9zM485.5,166.1h2.9v2.9h-2.9zM459.5,168.7h2.9v2.9h-2.9zM462.1,168.7h2.9v2.9h-2.9zM477.7,168.7h2.9v2.9h-2.9zM480.3,168.7h2.9v2.9h-2.9z" fill="#e6e6ff"/>
<path d="M464.7,80.3h2.9v2.9h-2.9zM467.3,80.3h2.9v2.9h-2.9zM469.9,80.3h2.9v2.9h-2.9zM472.5,80.3h2.9v2.9h-2.9zM475.1,80.3h2.9v2.9h-2.9zM459.5,82.9h2.9v2.9h-2.9zM480.3,82.9h2.9v2.9h-2.9zM454.3,85.5h2.9v2.9h-2.9zM485.5,85.5h2.9v2.9h-2.9zM443.9,95.9h2.9v2.9h-2.9zM495.9,95.9h2.9v2.9h-2.9zM438.7,106.3h2.9v2.9h-2.9zM501.1,106.3h2.9v2.9h-2.9zM436.1,114.1h2.9v2.9h-2.9zM503.7,114.1h2.9v2.9h-2.9zM436.1,116.7h2.9v2.9h-2.9zM503.7,116.7h2.9v2.9h-2.9zM436.1,119.3h2.9v2.9h-2.9zM503.7,119.3h2.9v2.9h-2.9zM436.1,129.7h2.9v2.9h-2.9zM503.7,129.7h2.9v2.9h-2.9zM436.1,132.3h2.9v2.9h-2.9zM503.7,132.3h2.9v2.9h-2.9zM436.1,134.9h2.9v2.9h-2.9zM503.7,134.9h2.9v2.9h-2.9zM438.7,142.7h2.9v2.9h-2.9zM501.1,142.7h2.9v2.9h-2.9zM443.9,153.1h2.9v2.9h-2.9zM495.9,153.1h2.9v2.9h-2.9zM454.3,163.5h2.9v2.9h-2.9zM485.5,163.5h2.9v2.9h-2.9zM459.5,166.1h2.9v2.9h-2.9zM480.3,166.1h2.9v2.9h-2.9zM464.7,168.7h2.9v2.9h-2.9zM467.3,168.7h2.9v2.9h-2.9zM469.9,168.7h2.9v2.9h-2.9zM472.5,168.7h2.9v2.9h-2.9zM475.1,168.7h2.9v2.9h-2.9z" fill="#ddddff"/>
<path d="M462.1,82.9h2.9v2.9h-2.9zM477.7,82.9h2.9v2.9h-2.9zM456.9,85.5h2.9v2.9h-2.9zM482.9,85.5h2.9v2.9h-2.9zM451.7,88.1h2.9v2.9h-2.9zM488.1,88.1h2.9v2.9h-2.9zM449.1,90.7h2.9v2.9h-2.9zM490.7,90.7h2.9v2.9h-2.9zM446.5,93.3h2.9v2.9h-2.9zM493.3,93.3h2.9v2.9h-2.9zM441.3,101.1h2.9v2.9h-2.9zM498.5,101.1h2.9v2.9h-2.9zM438.7,108.9h2.9v2.9h-2.9zM501.1,108.9h2.9v2.9h-2.9zM436.1,121.9h2.9v2.9h-2.9zM503.7,121.9h2.9v2.9h-2.9zM436.1,124.5h2.9v2.9h-2.9zM503.7,124.5h2.9v2.9h-2.9zM436.1,127.1h2.9v2.9h-2.9zM503.7,127.1h2.9v2.9h-2.9zM438.7,140.1h2.9v2.9h-2.9zM501.1,140.1h2.9v2.9h-2.9zM441.3,147.9h2.9v2.9h-2.9zM498.5,147.9h2.9v2.9h-2.9zM446.5,155.7h2.9v2.9h-2.9zM493.3,155.7h2.9v2.9h-2.9zM449.1,158.3h2.9v2.9h-2.9zM490.7,158.3h2.9v2.9h-2.9zM451.7,160.9h2.9v2.9h-2.9zM488.1,160.9h2.9v2.9h-2.9zM456.9,163.5h2.9v2.9h-2.9zM482.9,163.5h2.9v2.9h-2.9zM462.1,166.1h2.9v2.9h-2.9zM477.7,166.1h2.9v2.9h-2.9z" fill="#d4d4ff"/>
<path d="M464.7,82.9h2.9v2.9h-2.9zM467.3,82.9h2.9v2.9h-2.9zM469.9,82.9h2.9v2.9h-2.9zM472.5,82.9h2.9v2.9h-2.9zM475.1,82.9h2.9v2.9h-2.9zM459.5,85.5h2.9v2.9h-2.9zM480.3,85.5h2.9v2.9h-2.9zM454.3,88.1h2.9v2.9h-2.9zM485.5,88.1h2.9v2.9h-2.9zM451.7,90.7h2.9v2.9h-2.9zM488.1,90.7h2.9v2.9h-2.9zM449.1,93.3h2.9v2.9h-2.9zM490.7,93.3h2.9v2.9h-2.9zM446.5,95.9h2.9v2.9h-2.9zM493.3,95.9h2.9v2.9h-2.9zM443.9,98.5h2.9v2.9h-2.9zM495.9,98.5h2.9v2.9h-2.9zM441.3,103.7h2.9v2.9h-2.9zM498.5,103.7h2.9v2.9h-2.9zM438.7,111.5h2.9v2.9h-2.9zM501.1,111.5h2.9v2.9h-2.9zM438.7,114.1h2.9v2.9h-2.9zM501.1,114.1h2.9v2.9h-2.9zM438.7,134.9h2.9v2.9h-2.9zM501.1,134.9h2.9v2.9h-2.9zM438.7,137.5h2.9v2.9h-2.9zM501.1,137.5h2.9v2.9h-2.9zM441.3,145.3h2.9v2.9h-2.9zM498.5,145.3h2.9v2.9h-2.9zM443.9,150.5h2.9v2.9h-2.9zM495.9,150.5h2.9v2.9h-2.9zM446.5,153.1h2.9v2.9h-2.9zM493.3,153.1h2.9v2.9h-2.9zM449.1,155.7h2.9v2.9h-2.9zM490.7,155.7h2.9v2.9h-2.9zM451.7,158.3h2.9v2.9h-2.9zM488.1,158.3h2.9v2.9h-2.9zM454.3,160.9h2.9v2.9h-2.9zM485.5,160.9h2.9v2.9h-2.9zM459.5,163.5h2.9v2.9h-2.9zM480.3,163.5h2.9v2.9h-2.9zM464.7,166.1h2.9v2.9h-2.9zM467.3,166.1h2.9v2.9h-2.9zM469.9,166.1h2.9v2.9h-2.9zM472.5,166.1h2.9v2.9h-2.9zM475.1,166.1h2.9v2.9h-2.9z" fill="#ccccff"/>
<path d="M462.1,85.5h2.9v2.9h-2.9zM477.7,85.5h2.9v2.9h-2.9zM456.9,88.1h2.9v2.9h-2.9zM482.9,88.1h2.9v2.9h-2.9zM443.9,101.1h2.9v2.9h-2.9zM495.9,101.1h2.9v2.9h-2.9zM441.3,106.3h2.9v2.9h-2.9zM498.5,106.3h2.9v2.9h-2.9zM441.3,108.9h2.9v2.9h-2.9zM498.5,108.9h2.9v2.9h-2.9zM438.7,116.7h2.9v2.9h-2.9zM501.1,116.7h2.9v2.9h-2.9zM438.7,119.3h2.9v2.9h-2.9zM501.1,119.3h2.9v2.9h-2.9zM438.7,121.9h2.9v2.9h-2.9zM501.1,121.9h2.9v2.9h-2.9zM438.7,124.5h2.9v2.9h-2.9zM501.1,124.5h2.9v2.9h-2.9zM438.7,127.1h2.9v2.9h-2.9zM501.1,127.1h2.9v2.9h-2.9zM438.7,129.7h2.9v2.9h-2.9zM501.1,129.7h2.9v2.9h-2.9zM438.7,132.3h2.9v2.9h-2.9zM501.1,132.3h2.9v2.9h-2.9zM441.3,140.1h2.9v2.9h-2.9zM498.5,140.1h2.9v2.9h-2.9zM441.3,142.7h2.9v2.9h-2.9zM498.5,142.7h2.9v2.9h-2.9zM443.9,147.9h2.9v2.9h-2.9zM495.9,147.9h2.9v2.9h-2.9zM456.9,160.9h2.9v2.9h-2.9zM482.9,160.9h2.9v2.9h-2.9zM462.1,163.5h2.9v2.9h-2.9zM477.7,163.5h2.9v2.9h-2.9z" fill="#c4c4ff"/>
<path d="M464.7,85.5h2.9v2.9h-2.9zM467.3,85.5h2.9v2.9h-2.9zM469.9,85.5h2.9v2.9h-2.9zM472.5,85.5h2.9v2.9h-2.9zM475.1,85.5h2.9v2.9h-2.9zM459.5,88.1h2.9v2.9h-2.9zM480.3,88.1h2.9v2.9h-2.9zM454.3,90.7h2.9v2.9h-2.9zM485.5,90.7h2.9v2.9h-2.9zM451.7,93.3h2.9v2.9h-2.9zM488.1,93.3h2.9v2.9h-2.9zM449.1,95.9h2.9v2.9h-2.9zM490.7,95.9h2.9v2.9h-2.9zM446.5,98.5h2.9v2.9h-2.9zM493.3,98.5h2.9v2.9h-2.9zM443.9,103.7h2.9v2.9h-2.9zM495.9,103.7h2.9v2.9h-2.9zM441.3,111.5h2.9v2.9h-2.9zM498.5,111.5h2.9v2.9h-2.9zM441.3,137.5h2.9v2.9h-2.9zM498.5,137.5h2.9v2.9h-2.9zM443.9,145.3h2.9v2.9h-2.9zM495.9,145.3h2.9v2.9h-2.9zM446.5,150.5h2.9v2.9h-2.9zM493.3,150.5h2.9v2.9h-2.9zM449.1,153.1h2.9v2.9h-2.9zM490.7,153.1h2.9v2.9h-2.9zM451.7,155.7h2.9v2.9h-2.9zM488.1,155.7h2.9v2.9h-2.9zM454.3,158.3h2.9v2.9h-2.9zM485.5,158.3h2.9v2.9h-2.9zM459.5,160.9h2.9v2.9h-2.9zM480.3,160.9h2.9v2.9h-2.9zM464.7,163.5h2.9v2.9h-2.9zM467.3,163.5h2.9v2.9h-2.9zM469.9,163.5h2.9v2.9h-2.9zM472.5,163.5h2.9v2.9h-2.9zM475.1,163.5h2.9v2.9h-2.9z" fill="#bbbbff"/>
<path d="M446.5,101.1h2.9v2.9h-2.9zM493.3,101.1h2.9v2.9h-2.9zM443.9,106.3h2.9v2.9h-2.9zM495.9,106.3h2.9v2.9h-2.9zM441.3,114.1h2.9v2.9h-2.9zM498.5,114.1h2.9v2.9h-2.9zM441.3,134.9h2.9v2.9h-2.9zM498.5,134.9h2.9v2.9h-2.9zM443.9,142.7h2.9v2.9h-2.9zM495.9,142.7h2.9v2.9h-2.9zM446.5,147.9h2.9v2.9h-2.9zM493.3,147.9h2.9v2.9h-2.9z" fill="#b2b2ff"/>
<path d="M462.1,88.1h2.9v2.9h-2.9zM464.7,88.1h2.9v2.9h-2.9zM475.1,88.1h2.9v2.9h-2.9zM477.7,88.1h2.9v2.9h-2.9zM456.9,90.7h2.9v2.9h-2.9zM482.9,90.7h2.9v2.9h-2.9zM454.3,93.3h2.9v2.9h-2.9zM485.5,93.3h2.9v2.9h-2.9zM449.1,98.5h2.9v2.9h-2.9zM490.7,98.5h2.9v2.9h-2.9zM441.3,116.7h2.9v2.9h-2.9zM498.5,116.7h2.9v2.9h-2.9zM441.3,119.3h2.9v2.9h-2.9zM498.5,119.3h2.9v2.9h-2.9zM441.3,129.7h2.9v2.9h-2.9zM498.5,129.7h2.9v2.9h-2.9zM441.3,132.3h2.9v2.9h-2.9zM498.5,132.3h2.9v2.9h-2.9zM449.1,150.5h2.9v2.9h-2.9zM490.7,150.5h2.9v2.9h-2.9zM454.3,155.7h2.9v2.9h-2.9zM485.5,155.7h2.9v2.9h-2.9zM456.9,158.3h2.9v2.9h-2.9zM482.9,158.3h2.9v2.9h-2.9zM462.1,160.9h2.9v2.9h-2.9zM464.7,160.9h2.9v2.9h-2.9zM475.1,160.9h2.9v2.9h-2.9zM477.7,160.9h2.9v2.9h-2.9z" fill="#aaaaff"/>
<path d="M467.3,88.1h2.9v2.9h-2.9zM469.9,88.1h2.9v2.9h-2.9zM472.5,88.1h2.9v2.9h-2.9zM459.5,90.7h2.9v2.9h-2.9zM480.3,90.7h2.9v2.9h-2.9zM451.7,95.9h2.9v2.9h-2.9zM488.1,95.9h2.9v2.9h-2.9zM446.5,103.7h2.9v2.9h-2.9zM493.3,103.7h2.9v2.9h-2.9zM443.9,108.9h2.9v2.9h-2.9zM495.9,108.9h2.9v2.9h-2.9zM441.3,121.9h2.9v2.9h-2.9zM498.5,121.9h2.9v2.9h-2.9zM441.3,124.5h2.9v2.9h-2.9zM498.5,124.5h2.9v2.9h-2.9zM441.3,127.1h2.9v2.9h-2.9zM498.5,127.1h2.9v2.9h-2.9zM443.9,140.1h2.9v2.9h-2.9zM495.9,140.1h2.9v2.9h-2.9zM446.5,145.3h2.9v2.9h-2.9zM493.3,145.3h2.9v2.9h-2.9zM451.7,153.1h2.9v2.9h-2.9zM488.1,153.1h2.9v2.9h-2.9zM459.5,158.3h2.9v2.9h-2.9zM480.3,158.3h2.9v2.9h-2.9zM467.3,160.9h2.9v2.9h-2.9zM469.9,160.9h2.9v2.9h-2.9zM472.5,160.9h2.9v2.9h-2.9z" fill="#a2a2ff"/>
<path d="M462.1,90.7h2.9v2.9h-2.9zM477.7,90.7h2.9v2.9h-2.9zM456.9,93.3h2.9v2.9h-2.9zM482.9,93.3h2.9v2.9h-2.9zM449.1,101.1h2.9v2.9h-2.9zM490.7,101.1h2.9v2.9h-2.9zM443.9,111.5h2.9v2.9h-2.9zM495.9,111.5h2.9v2.9h-2.9zM443.9,137.5h2.9v2.9h-2.9zM495.9,137.5h2.9v2.9h-2.9zM449.1,147.9h2.9v2.9h-2.9zM490.7,147.9h2.9v2.9h-2.9zM456.9,155.7h2.9v2.9h-2.9zM482.9,155.7h2.9v2.9h-2.9zM462.1,158.3h2.9v2.9h-2.9zM477.7,158.3h2.9v2.9h-2.9z" fill="#9999ff"/>
<path d="M464.7,90.7h2.9v2.9h-2.9zM475.1,90.7h2.9v2.9h-2.9zM454.3,95.9h2.9v2.9h-2.9zM485.5,95.9h2.9v2.9h-2.9zM451.7,98.5h2.9v2.9h-2.9zM488.1,98.5h2.9v2.9h-2.9zM446.5,106.3h2.9v2.9h-2.9zM493.3,106.3h2.9v2.9h-2.9zM443.9,114.1h2.9v2.9h-2.9zM495.9,114.1h2.9v2.9h-2.9zM443.9,134.9h2.9v2.9h-2.9zM495.9,134.9h2.9v2.9h-2.9zM446.5,142.7h2.9v2.9h-2.9zM493.3,142.7h2.9v2.9h-2.9zM451.7,150.5h2.9v2.9h-2.9zM488.1,150.5h2.9v2.9h-2.9zM454.3,153.1h2.9v2.9h-2.9zM485.5,153.1h2.9v2.9h-2.9zM464.7,158.3h2.9v2.9h-2.9zM475.1,158.3h2.9v2.9h-2.9z" fill="#9090ff"/>
<path d="M467.3,90.7h2.9v2.9h-2.9zM469.9,90.7h2.9v2.9h-2.9zM472.5,90.7h2.9v2.9h-2.9zM459.5,93.3h2.9v2.9h-2.9zM480.3,93.3h2.9v2.9h-2.9zM449.1,103.7h2.9v2.9h-2.9zM490.7,103.7h2.9v2.9h-2.9zM446.5,108.9h2.9v2.9h-2.9zM493.3,108.9h2.9v2.9h-2.9zM443.9,116.7h2.9v2.9h-2.9zM495.9,116.7h2.9v2.9h-2.9zM443.9,132.3h2.9v2.9h-2.9zM495.9,132.3h2.9v2.9h-2.9zM446.5,140.1h2.9v2.9h-2.9zM493.3,140.1h2.9v2.9h-2.9zM449.1,145.3h2.9v2.9h-2.9zM490.7,145.3h2.9v2.9h-2.9zM459.5,155.7h2.9v2.9h-2.9zM480.3,155.7h2.9v2.9h-2.9zM467.3,158.3h2.9v2.9h-2.9zM469.9,158.3h2.9v2.9h-2.9zM472.5,158.3h2.9v2.9h-2.9z" fill="#8888ff"/>
<path d="M443.9,119.3h2.9v2.9h-2.9zM495.9,119.3h2.9v2.9h-2.9zM443.9,121.9h2.9v2.9h-2.9zM495.9,121.9h2.9v2.9h-2.9zM443.9,124.5h2.9v2.9h-2.9zM495.9,124.5h2.9v2.9h-2.9zM443.9,127.1h2.9v2.9h-2.9zM495.9,127.1h2.9v2.9h-2.9zM443.9,129.7h2.9v2.9h-2.9zM495.9,129.7h2.9v2.9h-2.9z" fill="#8080ff"/>
<path d="M456.9,95.9h2.9v2.9h-2.9zM482.9,95.9h2.9v2.9h-2.9zM451.7,101.1h2.9v2.9h-2.9zM488.1,101.1h2.9v2.9h-2.9zM451.7,147.9h2.9v2.9h-2.9zM488.1,147.9h2.9v2.9h-2.9zM456.9,153.1h2.9v2.9h-2.9zM482.9,153.1h2.9v2.9h-2.9z" fill="#7777ff"/>
<path d="M462.1,93.3h2.9v2.9h-2.9zM477.7,93.3h2.9v2.9h-2.9zM454.3,98.5h2.9v2.9h-2.9zM485.5,98.5h2.9v2.9h-2.9zM446.5,111.5h2.9v2.9h-2.9zM493.3,111.5h2.9v2.9h-2.9zM446.5,137.5h2.9v2.9h-2.9zM493.3,137.5h2.9v2.9h-2.9zM454.3,150.5h2.9v2.9h-2.9zM485.5,150.5h2.9v2.9h-2.9zM462.1,155.7h2.9v2.9h-2.9zM477.7,155.7h2.9v2.9h-2.9z" fill="#6e6eff"/>
<path d="M449.1,106.3h2.9v2.9h-2.9zM490.7,106.3h2.9v2.9h-2.9zM449.1,142.7h2.9v2.9h-2.9zM490.7,142.7h2.9v2.9h-2.9z" fill="#6666ff"/>
<path d="M464.7,93.3h2.9v2.9h-2.9zM475.1,93.3h2.9v2.9h-2.9zM459.5,95.9h2.9v2.9h-2.9zM480.3,95.9h2.9v2.9h-2.9zM446.5,114.1h2.9v2.9h-2.9zM493.3,114.1h2.9v2.9h-2.9zM446.5,134.9h2.9v2.9h-2.9zM493.3,134.9h2.9v2.9h-2.9zM459.5,153.1h2.9v2.9h-2.9zM480.3,153.1h2.9v2.9h-2.9zM464.7,155.7h2.9v2.9h-2.9zM475.1,155.7h2.9v2.9h-2.9z" fill="#5d5dff"/>
<path d="M467.3,93.3h2.9v2.9h-2.9zM469.9,93.3h2.9v2.9h-2.9zM472.5,93.3h2.9v2.9h-2.9zM451.7,103.7h2.9v2.9h-2.9zM488.1,103.7h2.9v2.9h-2.9zM451.7,145.3h2.9v2.9h-2.9zM488.1,145.3h2.9v2.9h-2.9zM467.3,155.7h2.9v2.9h-2.9zM469.9,155.7h2.9v2.9h-2.9zM472.5,155.7h2.9v2.9h-2.9z" fill="#5555ff"/>
<path d="M456.9,98.5h2.9v2.9h-2.9zM482.9,98.5h2.9v2.9h-2.9zM454.3,101.1h2.9v2.9h-2.9zM485.5,101.1h2.9v2.9h-2.9zM449.1,108.9h2.9v2.9h-2.9zM490.7,108.9h2.9v2.9h-2.9zM446.5,116.7h2.9v2.9h-2.9zM493.3,116.7h2.9v2.9h-2.9zM446.5,132.3h2.9v2.9h-2.9zM493.3,132.3h2.9v2.9h-2.9zM449.1,140.1h2.9v2.9h-2.9zM490.7,140.1h2.9v2.9h-2.9zM454.3,147.9h2.9v2.9h-2.9zM485.5,147.9h2.9v2.9h-2.9zM456.9,150.5h2.9v2.9h-2.9zM482.9,150.5h2.9v2.9h-2.9z" fill="#4c4cff"/>
<path d="M446.5,119.3h2.9v2.9h-2.9zM493.3,119.3h2.9v2.9h-2.9zM446.5,129.7h2.9v2.9h-2.9zM493.3,129.7h2.9v2.9h-2.9z" fill="#4444ff"/>
<path d="M462.1,95.9h2.9v2.9h-2.9zM477.7,95.9h2.9v2.9h-2.9zM446.5,121.9h2.9v2.9h-2.9zM493.3,121.9h2.9v2.9h-2.9zM446.5,127.1h2.9v2.9h-2.9zM493.3,127.1h2.9v2.9h-2.9zM462.1,153.1h2.9v2.9h-2.9zM477.7,153.1h2.9v2.9h-2.9z" fill="#3c3cff"/>
<path d="M446.5,124.5h2.9v2.9h-2.9zM493.3,124.5h2.9v2.9h-2.9z" fill="#3333ff"/>
<path d="M464.7,95.9h2.9v2.9h-2.9zM475.1,95.9h2.9v2.9h-2.9zM451.7,106.3h2.9v2.9h-2.9zM488.1,106.3h2.9v2.9h-2.9zM449.1,111.5h2.9v2.9h-2.9zM490.7,111.5h2.9v2.9h-2.9zM449.1,137.5h2.9v2.9h-2.9zM490.7,137.5h2.9v2.9h-2.9zM451.7,142.7h2.9v2.9h-2.9zM488.1,142.7h2.9v2.9h-2.9zM464.7,153.1h2.9v2.9h-2.9zM475.1,153.1h2.9v2.9h-2.9z" fill="#2a2aff"/>
<path d="M459.5,98.5h2.9v2.9h-2.9zM480.3,98.5h2.9v2.9h-2.9zM459.5,150.5h2.9v2.9h-2.9zM480.3,150.5h2.9v2.9h-2.9z" fill="#2222ff"/>
<path d="M467.3,95.9h2.9v2.9h-2.9zM472.5,95.9h2.9v2.9h-2.9zM456.9,101.1h2.9v2.9h-2.9zM482.9,101.1h2.9v2.9h-2.9zM454.3,103.7h2.9v2.9h-2.9zM485.5,103.7h2.9v2.9h-2.9zM454.3,145.3h2.9v2.9h-2.9zM485.5,145.3h2.9v2.9h-2.9zM456.9,147.9h2.9v2.9h-2.9zM482.9,147.9h2.9v2.9h-2.9zM467.3,153.1h2.9v2.9h-2.9zM472.5,153.1h2.9v2.9h-2.9z" fill="#1919ff"/>
<path d="M469.9,95.9h2.9v2.9h-2.9zM449.1,114.1h2.9v2.9h-2.9zM490.7,114.1h2.9v2.9h-2.9zM449.1,134.9h2.9v2.9h-2.9zM490.7,134.9h2.9v2.9h-2.9zM469.9,153.1h2.9v2.9h-2.9z" fill="#1111ff"/>
<path d="M462.1,98.5h2.9v2.9h-2.9zM477.7,98.5h2.9v2.9h-2.9zM451.7,108.9h2.9v2.9h-2.9zM488.1,108.9h2.9v2.9h-2.9zM451.7,140.1h2.9v2.9h-2.9zM488.1,140.1h2.9v2.9h-2.9zM462.1,150.5h2.9v2.9h-2.9zM477.7,150.5h2.9v2.9h-2.9z" fill="#0000ff"/>
<path d="M449.1,116.7h2.9v2.9h-2.9zM490.7,116.7h2.9v2.9h-2.9zM449.1,132.3h2.9v2.9h-2.9zM490.7,132.3h2.9v2.9h-2.9z" fill="#000dff"/>
<path d="M449.1,119.3h2.9v2.9h-2.9zM490.7,119.3h2.9v2.9h-2.9zM449.1,129.7h2.9v2.9h-2.9zM490.7,129.7h2.9v2.9h-2.9z" fill="#0026ff"/>
<path d="M464.7,98.5h2.9v2.9h-2.9zM475.1,98.5h2.9v2.9h-2.9zM459.5,101.1h2.9v2.9h-2.9zM480.3,101.1h2.9v2.9h-2.9zM454.3,106.3h2.9v2.9h-2.9zM485.5,106.3h2.9v2.9h-2.9zM454.3,142.7h2.9v2.9h-2.9zM485.5,142.7h2.9v2.9h-2.9zM459.5,147.9h2.9v2.9h-2.9zM480.3,147.9h2.9v2.9h-2.9zM464.7,150.5h2.9v2.9h-2.9zM475.1,150.5h2.9v2.9h-2.9z" fill="#0033ff"/>
<path d="M456.9,103.7h2.9v2.9h-2.9zM482.9,103.7h2.9v2.9h-2.9zM451.7,111.5h2.9v2.9h-2.9zM488.1,111.5h2.9v2.9h-2.9zM449.1,121.9h2.9v2.9h-2.9zM490.7,121.9h2.9v2.9h-2.9zM449.1,124.5h2.9v2.9h-2.9zM490.7,124.5h2.9v2.9h-2.9zM449.1,127.1h2.9v2.9h-2.9zM490.7,127.1h2.9v2.9h-2.9zM451.7,137.5h2.9v2.9h-2.9zM488.1,137.5h2.9v2.9h-2.9zM456.9,145.3h2.9v2.9h-2.9zM482.9,145.3h2.9v2.9h-2.9z" fill="#0040ff"/>
<path d="M467.3,98.5h2.9v2.9h-2.9zM472.5,98.5h2.9v2.9h-2.9zM467.3,150.5h2.9v2.9h-2.9zM472.5,150.5h2.9v2.9h-2.9z" fill="#0059ff"/>
<path d="M469.9,98.5h2.9v2.9h-2.9zM469.9,150.5h2.9v2.9h-2.9z" fill="#0066ff"/>
<path d="M462.1,101.1h2.9v2.9h-2.9zM477.7,101.1h2.9v2.9h-2.9zM451.7,114.1h2.9v2.9h-2.9zM488.1,114.1h2.9v2.9h-2.9zM451.7,134.9h2.9v2.9h-2.9zM488.1,134.9h2.9v2.9h-2.9zM462.1,147.9h2.9v2.9h-2.9zM477.7,147.9h2.9v2.9h-2.9z" fill="#0080ff"/>
<path d="M454.3,108.9h2.9v2.9h-2.9zM485.5,108.9h2.9v2.9h-2.9zM454.3,140.1h2.9v2.9h-2.9zM485.5,140.1h2.9v2.9h-2.9z" fill="#008cff"/>
<path d="M459.5,103.7h2.9v2.9h-2.9zM480.3,103.7h2.9v2.9h-2.9zM459.5,145.3h2.9v2.9h-2.9zM480.3,145.3h2.9v2.9h-2.9z" fill="#00a6ff"/>
<path d="M456.9,106.3h2.9v2.9h-2.9zM482.9,106.3h2.9v2.9h-2.9zM451.7,116.7h2.9v2.9h-2.9zM488.1,116.7h2.9v2.9h-2.9zM451.7,132.3h2.9v2.9h-2.9zM488.1,132.3h2.9v2.9h-2.9zM456.9,142.7h2.9v2.9h-2.9zM482.9,142.7h2.9v2.9h-2.9z" fill="#00b3ff"/>
<path d="M464.7,101.1h2.9v2.9h-2.9zM475.1,101.1h2.9v2.9h-2.9zM464.7,147.9h2.9v2.9h-2.9zM475.1,147.9h2.9v2.9h-2.9z" fill="#00bfff"/>
<path d="M454.3,111.5h2.9v2.9h-2.9zM485.5,111.5h2.9v2.9h-2.9zM451.7,119.3h2.9v2.9h-2.9zM488.1,119.3h2.9v2.9h-2.9zM451.7,129.7h2.9v2.9h-2.9zM488.1,129.7h2.9v2.9h-2.9zM454.3,137.5h2.9v2.9h-2.9zM485.5,137.5h2.9v2.9h-2.9z" fill="#00d9ff"/>
<path d="M467.3,101.1h2.9v2.9h-2.9zM472.5,101.1h2.9v2.9h-2.9zM467.3,147.9h2.9v2.9h-2.9zM472.5,147.9h2.9v2.9h-2.9z" fill="#00e5ff"/>
<path d="M469.9,101.1h2.9v2.9h-2.9zM451.7,121.9h2.9v2.9h-2.9zM488.1,121.9h2.9v2.9h-2.9zM451.7,124.5h2.9v2.9h-2.9zM488.1,124.5h2.9v2.9h-2.9zM451.7,127.1h2.9v2.9h-2.9zM488.1,127.1h2.9v2.9h-2.9zM469.9,147.9h2.9v2.9h-2.9z" fill="#00f2ff"/>
<path d="M462.1,103.7h2.9v2.9h-2.9zM477.7,103.7h2.9v2.9h-2.9zM462.1,145.3h2.9v2.9h-2.9zM477.7,145.3h2.9v2.9h-2.9z" fill="#00ffff"/>
<path d="M456.9,108.9h2.9v2.9h-2.9zM482.9,108.9h2.9v2.9h-2.9zM456.9,140.1h2.9v2.9h-2.9zM482.9,140.1h2.9v2.9h-2.9z" fill="#0dfff2"/>
<path d="M459.5,106.3h2.9v2.9h-2.9zM480.3,106.3h2.9v2.9h-2.9zM454.3,114.1h2.9v2.9h-2.9zM485.5,114.1h2.9v2.9h-2.9zM454.3,134.9h2.9v2.9h-2.9zM485.5,134.9h2.9v2.9h-2.9zM459.5,142.7h2.9v2.9h-2.9zM480.3,142.7h2.9v2.9h-2.9z" fill="#26ffd9"/>
<path d="M464.7,103.7h2.9v2.9h-2.9zM475.1,103.7h2.9v2.9h-2.9zM464.7,145.3h2.9v2.9h-2.9zM475.1,145.3h2.9v2.9h-2.9z" fill="#40ffbf"/>
<path d="M454.3,116.7h2.9v2.9h-2.9zM485.5,116.7h2.9v2.9h-2.9zM454.3,132.3h2.9v2.9h-2.9zM485.5,132.3h2.9v2.9h-2.9z" fill="#5affa6"/>
<path d="M456.9,111.5h2.9v2.9h-2.9zM482.9,111.5h2.9v2.9h-2.9zM456.9,137.5h2.9v2.9h-2.9zM482.9,137.5h2.9v2.9h-2.9z" fill="#66ff99"/>
<path d="M467.3,103.7h2.9v2.9h-2.9zM472.5,103.7h2.9v2.9h-2.9zM467.3,145.3h2.9v2.9h-2.9zM472.5,145.3h2.9v2.9h-2.9z" fill="#73ff8d"/>
<path d="M469.9,103.7h2.9v2.9h-2.9zM462.1,106.3h2.9v2.9h-2.9zM477.7,106.3h2.9v2.9h-2.9zM454.3,119.3h2.9v2.9h-2.9zM485.5,119.3h2.9v2.9h-2.9zM454.3,129.7h2.9v2.9h-2.9zM485.5,129.7h2.9v2.9h-2.9zM462.1,142.7h2.9v2.9h-2.9zM477.7,142.7h2.9v2.9h-2.9zM469.9,145.3h2.9v2.9h-2.9z" fill="#80ff80"/>
<path d="M459.5,108.9h2.9v2.9h-2.9zM480.3,108.9h2.9v2.9h-2.9zM459.5,140.1h2.9v2.9h-2.9zM480.3,140.1h2.9v2.9h-2.9z" fill="#8dff73"/>
<path d="M454.3,121.9h2.9v2.9h-2.9zM485.5,121.9h2.9v2.9h-2.9zM454.3,127.1h2.9v2.9h-2.9zM485.5,127.1h2.9v2.9h-2.9z" fill="#99ff66"/>
<path d="M454.3,124.5h2.9v2.9h-2.9zM485.5,124.5h2.9v2.9h-2.9z" fill="#a6ff5a"/>
<path d="M456.9,114.1h2.9v2.9h-2.9zM482.9,114.1h2.9v2.9h-2.9zM456.9,134.9h2.9v2.9h-2.9zM482.9,134.9h2.9v2.9h-2.9z" fill="#b3ff4d"/>
<path d="M464.7,106.3h2.9v2.9h-2.9zM475.1,106.3h2.9v2.9h-2.9zM464.7,142.7h2.9v2.9h-2.9zM475.1,142.7h2.9v2.9h-2.9z" fill="#c0ff40"/>
<path d="M459.5,111.5h2.9v2.9h-2.9zM480.3,111.5h2.9v2.9h-2.9zM459.5,137.5h2.9v2.9h-2.9zM480.3,137.5h2.9v2.9h-2.9z" fill="#e6ff1a"/>
<path d="M467.3,106.3h2.9v2.9h-2.9zM472.5,106.3h2.9v2.9h-2.9zM462.1,108.9h2.9v2.9h-2.9zM477.7,108.9h2.9v2.9h-2.9zM456.9,116.7h2.9v2.9h-2.9zM482.9,116.7h2.9v2.9h-2.9zM456.9,132.3h2.9v2.9h-2.9zM482.9,132.3h2.9v2.9h-2.9zM462.1,140.1h2.9v2.9h-2.9zM477.7,140.1h2.9v2.9h-2.9zM467.3,142.7h2.9v2.9h-2.9zM472.5,142.7h2.9v2.9h-2.9z" fill="#f2ff0d"/>
<path d="M469.9,106.3h2.9v2.9h-2.9zM469.9,142.7h2.9v2.9h-2.9z" fill="#ffff00"/>
<path d="M456.9,119.3h2.9v2.9h-2.9zM482.9,119.3h2.9v2.9h-2.9zM456.9,129.7h2.9v2.9h-2.9zM482.9,129.7h2.9v2.9h-2.9z" fill="#ffe600"/>
<path d="M464.7,108.9h2.9v2.9h-2.9zM475.1,108.9h2.9v2.9h-2.9zM459.5,114.1h2.9v2.9h-2.9zM480.3,114.1h2.9v2.9h-2.9zM456.9,121.9h2.9v2.9h-2.9zM482.9,121.9h2.9v2.9h-2.9zM456.9,127.1h2.9v2.9h-2.9zM482.9,127.1h2.9v2.9h-2.9zM459.5,134.9h2.9v2.9h-2.9zM480.3,134.9h2.9v2.9h-2.9zM464.7,140.1h2.9v2.9h-2.9zM475.1,140.1h2.9v2.9h-2.9z" fill="#ffcc00"/>
<path d="M456.9,124.5h2.9v2.9h-2.9zM482.9,124.5h2.9v2.9h-2.9z" fill="#ffc000"/>
<path d="M462.1,111.5h2.9v2.9h-2.9zM477.7,111.5h2.9v2.9h-2.9zM462.1,137.5h2.9v2.9h-2.9zM477.7,137.5h2.9v2.9h-2.9z" fill="#ffb300"/>
<path d="M467.3,108.9h2.9v2.9h-2.9zM472.5,108.9h2.9v2.9h-2.9zM467.3,140.1h2.9v2.9h-2.9zM472.5,140.1h2.9v2.9h-2.9z" fill="#ffa600"/>
<path d="M469.9,108.9h2.9v2.9h-2.9zM469.9,140.1h2.9v2.9h-2.9z" fill="#ff9900"/>
<path d="M459.5,116.7h2.9v2.9h-2.9zM480.3,116.7h2.9v2.9h-2.9zM459.5,132.3h2.9v2.9h-2.9zM480.3,132.3h2.9v2.9h-2.9z" fill="#ff8d00"/>
<path d="M464.7,111.5h2.9v2.9h-2.9zM475.1,111.5h2.9v2.9h-2.9zM464.7,137.5h2.9v2.9h-2.9zM475.1,137.5h2.9v2.9h-2.9z" fill="#ff7300"/>
<path d="M462.1,114.1h2.9v2.9h-2.9zM477.7,114.1h2.9v2.9h-2.9zM459.5,119.3h2.9v2.9h-2.9zM480.3,119.3h2.9v2.9h-2.9zM459.5,129.7h2.9v2.9h-2.9zM480.3,129.7h2.9v2.9h-2.9zM462.1,134.9h2.9v2.9h-2.9zM477.7,134.9h2.9v2.9h-2.9z" fill="#ff6600"/>
<path d="M459.5,121.9h2.9v2.9h-2.9zM480.3,121.9h2.9v2.9h-2.9zM459.5,127.1h2.9v2.9h-2.9zM480.3,127.1h2.9v2.9h-2.9z" fill="#ff5a00"/>
<path d="M467.3,111.5h2.9v2.9h-2.9zM472.5,111.5h2.9v2.9h-2.9zM459.5,124.5h2.9v2.9h-2.9zM480.3,124.5h2.9v2.9h-2.9zM467.3,137.5h2.9v2.9h-2.9zM472.5,137.5h2.9v2.9h-2.9z" fill="#ff4d00"/>
<path d="M469.9,111.5h2.9v2.9h-2.9zM462.1,116.7h2.9v2.9h-2.9zM477.7,116.7h2.9v2.9h-2.9zM462.1,132.3h2.9v2.9h-2.9zM477.7,132.3h2.9v2.9h-2.9zM469.9,137.5h2.9v2.9h-2.9z" fill="#ff4000"/>
<path d="M464.7,114.1h2.9v2.9h-2.9zM475.1,114.1h2.9v2.9h-2.9zM464.7,134.9h2.9v2.9h-2.9zM475.1,134.9h2.9v2.9h-2.9z" fill="#ff3300"/>
<path d="M467.3,114.1h2.9v2.9h-2.9zM472.5,114.1h2.9v2.9h-2.9zM462.1,119.3h2.9v2.9h-2.9zM477.7,119.3h2.9v2.9h-2.9zM462.1,129.7h2.9v2.9h-2.9zM477.7,129.7h2.9v2.9h-2.9zM467.3,134.9h2.9v2.9h-2.9zM472.5,134.9h2.9v2.9h-2.9z" fill="#ff0d00"/>
<path d="M469.9,114.1h2.9v2.9h-2.9zM464.7,116.7h2.9v2.9h-2.9zM475.1,116.7h2.9v2.9h-2.9zM462.1,121.9h2.9v2.9h-2.9zM477.7,121.9h2.9v2.9h-2.9zM462.1,127.1h2.9v2.9h-2.9zM477.7,127.1h2.9v2.9h-2.9zM464.7,132.3h2.9v2.9h-2.9zM475.1,132.3h2.9v2.9h-2.9zM469.9,134.9h2.9v2.9h-2.9z" fill="#f20000"/>
<path d="M462.1,124.5h2.9v2.9h-2.9zM477.7,124.5h2.9v2.9h-2.9z" fill="#e60000"/>
<path d="M467.3,116.7h2.9v2.9h-2.9zM472.5,116.7h2.9v2.9h-2.9zM464.7,119.3h2.9v2.9h-2.9zM475.1,119.3h2.9v2.9h-2.9zM464.7,129.7h2.9v2.9h-2.9zM475.1,129.7h2.9v2.9h-2.9zM467.3,132.3h2.9v2.9h-2.9zM472.5,132.3h2.9v2.9h-2.9z" fill="#c00000"/>
<path d="M469.9,116.7h2.9v2.9h-2.9zM469.9,132.3h2.9v2.9h-2.9z" fill="#b30000"/>
<path d="M467.3,119.3h2.9v2.9h-2.9zM472.5,119.3h2.9v2.9h-2.9zM464.7,121.9h2.9v2.9h-2.9zM475.1,121.9h2.9v2.9h-2.9zM464.7,124.5h2.9v2.9h-2.9zM475.1,124.5h2.9v2.9h-2.9zM464.7,127.1h2.9v2.9h-2.9zM475.1,127.1h2.9v2.9h-2.9zM467.3,129.7h2.9v2.9h-2.9zM472.5,129.7h2.9v2.9h-2.9z" fill="#a60000"/>
<path d="M469.9,119.3h2.9v2.9h-2.9zM469.9,129.7h2.9v2.9h-2.9z" fill="#990000"/>
<path d="M467.3,121.9h2.9v2.9h-2.9zM469.9,121.9h2.9v2.9h-2.9zM472.5,121.9h2.9v2.9h-2.9zM467.3,124.5h2.9v2.9h-2.9zM472.5,124.5h2.9v2.9h-2.9zM467.3,127.1h2.9v2.9h-2.9zM469.9,127.1h2.9v2.9h-2.9zM472.5,127.1h2.9v2.9h-2.9z" fill="#8d0000"/>
<path d="M469.9,124.5h2.9v2.9h-2.9z" fill="#800000"/>
<path d="M557.2,95.1L379.5,35.8M557.2,106.6L379.5,60.3M557.2,118.0L379.5,84.9M557.2,129.5L379.5,109.5M557.2,141.0L379.5,134.0M557.2,152.5L379.5,158.6M557.2,164.0L379.5,183.1M557.2,175.5L379.5,207.6M557.2,187.0L379.5,232.2M557.2,198.5L379.5,256.8M444.0,11.8L391.5,271.0M451.5,11.8L412.1,271.0M459.0,11.8L432.8,271.0M466.5,11.8L453.4,271.0M474.0,11.8L474.0,271.0M481.5,11.8L494.6,271.0M489.0,11.8L515.2,271.0M496.5,11.8L535.9,271.0M504.0,11.8L556.5,271.0" stroke="#9a9a9a" stroke-width="0.9" stroke-dasharray="1,1.5" fill="none"/>
<polyline points="405.30,11.00 401.80,20.00 393.00,42.40 391.40,45.60 389.00,49.60 389.80,52.00 387.40,70.00 385.50,85.80 384.50,95.00 383.50,109.20 382.80,128.50 384.00,140.00 385.60,156.00 388.00,172.00 389.80,185.00 392.20,193.00 391.40,196.20 393.00,199.40 397.00,209.00 405.80,235.00 410.00,243.80 404.00,245.70 411.50,247.50 417.50,249.00 419.80,250.50 422.80,250.60 425.30,252.50 426.90,256.50 427.20,264.00 426.60,266.50 427.30,272.00" fill="none" stroke="#000" stroke-width="1.9" stroke-linejoin="round" stroke-linecap="butt" />
<polyline points="463.30,272.00 463.60,264.00 463.90,257.00 465.20,253.20 467.50,250.80 470.00,249.80 474.00,249.60 488.00,240.90 495.20,240.90 494.50,233.70" fill="none" stroke="#000" stroke-width="1.9" stroke-linejoin="round" stroke-linecap="butt" />
<path d="M494.50,233.70C496.25,231.67 502.40,224.62 505.00,221.50C507.60,218.38 507.57,218.78 510.10,215.00C512.63,211.22 517.30,203.97 520.20,198.80C523.10,193.63 525.23,188.80 527.50,184.00C529.77,179.20 531.93,175.67 533.80,170.00C535.67,164.33 537.52,156.67 538.70,150.00C539.88,143.33 540.63,136.67 540.90,130.00C541.17,123.33 541.03,117.50 540.30,110.00C539.57,102.50 538.17,92.50 536.50,85.00C534.83,77.50 532.90,71.88 530.30,65.00C527.70,58.12 522.47,47.25 520.90,43.70" fill="none" stroke="#000" stroke-width="1.9"/>
<polyline points="520.90,43.70 522.30,38.00 513.00,29.30 501.60,17.20 493.00,11.00" fill="none" stroke="#000" stroke-width="1.9" stroke-linejoin="round" stroke-linecap="butt" />
<path d="M443.00,258.90C441.67,257.35 438.00,253.58 435.00,249.60C432.00,245.62 428.27,240.43 425.00,235.00C421.73,229.57 418.33,222.67 415.40,217.00C412.47,211.33 409.43,205.50 407.40,201.00C405.37,196.50 404.70,194.83 403.20,190.00C401.70,185.17 399.73,177.67 398.40,172.00C397.07,166.33 396.13,161.33 395.20,156.00C394.27,150.67 393.23,145.17 392.80,140.00C392.37,134.83 392.53,130.00 392.60,125.00C392.67,120.00 392.87,114.67 393.20,110.00C393.53,105.33 393.83,101.83 394.60,97.00C395.37,92.17 396.73,85.83 397.80,81.00C398.87,76.17 399.67,72.05 401.00,68.00C402.33,63.95 403.93,60.43 405.80,56.70C407.67,52.97 409.82,49.18 412.20,45.60C414.58,42.02 417.45,38.00 420.10,35.20C422.75,32.40 425.83,30.32 428.10,28.80C430.37,27.28 431.22,27.15 433.70,26.10C436.18,25.05 439.78,23.30 443.00,22.50C446.22,21.70 449.83,21.42 453.00,21.30C456.17,21.18 459.17,21.42 462.00,21.80C464.83,22.18 466.27,22.45 470.00,23.60C473.73,24.75 479.60,26.17 484.40,28.70C489.20,31.23 494.02,34.42 498.80,38.80C503.58,43.18 509.53,50.63 513.10,55.00C516.67,59.37 517.58,60.22 520.20,65.00C522.82,69.78 526.40,76.20 528.80,83.70C531.20,91.20 533.40,102.50 534.60,110.00C535.80,117.50 535.88,123.90 536.00,128.70C536.12,133.50 535.90,134.42 535.30,138.80C534.70,143.18 533.85,149.80 532.40,155.00C530.95,160.20 529.00,165.00 526.60,170.00C524.20,175.00 520.98,180.20 518.00,185.00C515.02,189.80 512.53,194.00 508.70,198.80C504.87,203.60 499.28,209.60 495.00,213.80C490.72,218.00 488.00,219.72 483.00,224.00C478.00,228.28 471.67,233.68 465.00,239.50C458.33,245.32 446.67,255.67 443.00,258.90" fill="none" stroke="#000" stroke-width="1.4"/>
<path d="M443,258.9L456,272M443,258.9L433,272" stroke="#000" stroke-width="1.4" fill="none"/>
<path d="M433.80,27.30C433.95,32.25 434.23,44.55 434.70,57.00C435.17,69.45 436.18,91.17 436.60,102.00C437.02,112.83 437.20,114.50 437.20,122.00C437.20,129.50 436.95,135.67 436.60,147.00C436.25,158.33 435.58,174.22 435.10,190.00C434.62,205.78 433.93,233.08 433.70,241.70" fill="none" stroke="#000" stroke-width="2"/>
<path d="M501.60,47.20C501.83,53.50 502.52,72.03 503.00,85.00C503.48,97.97 504.33,114.17 504.50,125.00C504.67,135.83 504.25,141.67 504.00,150.00C503.75,158.33 503.35,167.00 503.00,175.00C502.65,183.00 502.08,194.17 501.90,198.00" fill="none" stroke="#000" stroke-width="2"/>
</g>
<path d="M469,124.8l4.4,4.4M469,129.2l4.4,-4.4" stroke="#000" stroke-width="1.2"/>
<text transform="translate(432.3,147.5) rotate(-90)" font-size="10" font-weight="bold" text-anchor="middle"><tspan font-style="italic" font-weight="normal" stroke-width="0">ω</tspan><tspan font-weight="normal"> = </tspan><tspan font-style="italic" font-weight="normal" stroke-width="0">ω</tspan><tspan font-size="7" dy="2.5">cl</tspan><tspan dy="-2.5">(D)</tspan></text>
<text transform="translate(519,140) rotate(-90)" font-size="10" font-weight="bold" text-anchor="middle"><tspan font-style="italic" font-weight="normal" stroke-width="0">ω</tspan><tspan font-weight="normal"> = </tspan><tspan font-style="italic" font-weight="normal" stroke-width="0">ω</tspan><tspan font-size="7" dy="2.5">cl</tspan><tspan dy="-2.5">(</tspan><tspan font-size="7.5" dy="-4.8">3</tspan><tspan dy="4.8">He)</tspan></text>
<path d="M386.72,11.8v3M386.72,271.0v-3M394.50,11.8v6M394.50,271.0v-6M402.28,11.8v3M402.28,271.0v-3M410.06,11.8v3M410.06,271.0v-3M417.84,11.8v3M417.84,271.0v-3M425.62,11.8v3M425.62,271.0v-3M433.40,11.8v6M433.40,271.0v-6M441.18,11.8v3M441.18,271.0v-3M448.96,11.8v3M448.96,271.0v-3M456.74,11.8v3M456.74,271.0v-3M464.52,11.8v3M464.52,271.0v-3M472.30,11.8v6M472.30,271.0v-6M480.08,11.8v3M480.08,271.0v-3M487.86,11.8v3M487.86,271.0v-3M495.64,11.8v3M495.64,271.0v-3M503.42,11.8v3M503.42,271.0v-3M511.20,11.8v6M511.20,271.0v-6M518.98,11.8v3M518.98,271.0v-3M526.76,11.8v3M526.76,271.0v-3M534.54,11.8v3M534.54,271.0v-3M542.32,11.8v3M542.32,271.0v-3M550.10,11.8v6M550.10,271.0v-6M379.5,263.42h6M557.2,263.42h-6M379.5,255.67h3M557.2,255.67h-3M379.5,247.91h3M557.2,247.91h-3M379.5,240.16h3M557.2,240.16h-3M379.5,232.41h3M557.2,232.41h-3M379.5,224.65h6M557.2,224.65h-6M379.5,216.89h3M557.2,216.89h-3M379.5,209.14h3M557.2,209.14h-3M379.5,201.38h3M557.2,201.38h-3M379.5,193.63h3M557.2,193.63h-3M379.5,185.88h6M557.2,185.88h-6M379.5,178.12h3M557.2,178.12h-3M379.5,170.37h3M557.2,170.37h-3M379.5,162.61h3M557.2,162.61h-3M379.5,154.85h3M557.2,154.85h-3M379.5,147.10h6M557.2,147.10h-6M379.5,139.34h3M557.2,139.34h-3M379.5,131.59h3M557.2,131.59h-3M379.5,123.83h3M557.2,123.83h-3M379.5,116.08h3M557.2,116.08h-3M379.5,108.32h6M557.2,108.32h-6M379.5,100.57h3M557.2,100.57h-3M379.5,92.81h3M557.2,92.81h-3M379.5,85.06h3M557.2,85.06h-3M379.5,77.31h3M557.2,77.31h-3M379.5,69.55h6M557.2,69.55h-6M379.5,61.79h3M557.2,61.79h-3M379.5,54.04h3M557.2,54.04h-3M379.5,46.28h3M557.2,46.28h-3M379.5,38.53h3M557.2,38.53h-3M379.5,30.78h6M557.2,30.78h-6M379.5,23.02h3M557.2,23.02h-3M379.5,15.26h3M557.2,15.26h-3" stroke="#000" stroke-width="1.3" fill="none"/>
<rect x="379.5" y="11.8" width="177.70" height="259.20" fill="none" stroke="#000" stroke-width="1.6"/>
<text x="371" y="34.575" font-size="10.9" text-anchor="end" fill="#000" stroke="#000" font-weight="bold"  style="">1.5</text>
<text x="371" y="73.35" font-size="10.9" text-anchor="end" fill="#000" stroke="#000" font-weight="bold"  style="">1.0</text>
<text x="371" y="112.12499999999999" font-size="10.9" text-anchor="end" fill="#000" stroke="#000" font-weight="bold"  style="">0.5</text>
<text x="371" y="150.9" font-size="10.9" text-anchor="end" fill="#000" stroke="#000" font-weight="bold"  style="">0.0</text>
<text x="371" y="189.675" font-size="10.9" text-anchor="end" fill="#000" stroke="#000" font-weight="bold"  style="">-0.5</text>
<text x="371" y="228.45" font-size="10.9" text-anchor="end" fill="#000" stroke="#000" font-weight="bold"  style="">-1.0</text>
<text x="371" y="267.22499999999997" font-size="10.9" text-anchor="end" fill="#000" stroke="#000" font-weight="bold"  style="">-1.5</text>
<text x="394.8" y="289.8" font-size="10.9" text-anchor="middle" fill="#000" stroke="#000" font-weight="bold"  style="">2.0</text>
<text x="433.7" y="289.8" font-size="10.9" text-anchor="middle" fill="#000" stroke="#000" font-weight="bold"  style="">2.5</text>
<text x="472.6" y="289.8" font-size="10.9" text-anchor="middle" fill="#000" stroke="#000" font-weight="bold"  style="">3.0</text>
<text x="511.5" y="289.8" font-size="10.9" text-anchor="middle" fill="#000" stroke="#000" font-weight="bold"  style="">3.5</text>
<text x="550.4" y="289.8" font-size="10.9" text-anchor="middle" fill="#000" stroke="#000" font-weight="bold"  style="">4.0</text>
<text x="468.5" y="306.3" font-size="12" font-weight="bold" text-anchor="middle"><tspan font-style="italic">R</tspan> (m)</text>
<text transform="translate(341.6,140.7) rotate(-90)" font-size="12.3" font-weight="bold" text-anchor="middle"><tspan font-style="italic">Z</tspan> (m)</text>
<text x="546.8" y="29.2" font-size="10.8" text-anchor="end" fill="#000" stroke="#000" font-weight="bold"  style="">(b)</text>
<text x="552.8" y="8.6" font-size="9.2" text-anchor="end" fill="#000" stroke="#000" font-weight="bold"  style="">(a.u.)</text>
<rect x="562.3" y="11.8" width="8.40" height="259.20" fill="url(#cbar)" stroke="#000" stroke-width="1.2"/>
<path d="M562.3,219.16h2M570.7,219.16h-2M562.3,167.32h2M570.7,167.32h-2M562.3,115.48h2M570.7,115.48h-2M562.3,63.64h2M570.7,63.64h-2" stroke="#000" stroke-width="1" fill="none"/>
<text x="574.8" y="274.9" font-size="10.6" text-anchor="start" fill="#000" stroke="#000" font-weight="bold"  style="">0.0</text>
<text x="574.8" y="223.06" font-size="10.6" text-anchor="start" fill="#000" stroke="#000" font-weight="bold"  style="">0.2</text>
<text x="574.8" y="171.22" font-size="10.6" text-anchor="start" fill="#000" stroke="#000" font-weight="bold"  style="">0.4</text>
<text x="574.8" y="119.38000000000002" font-size="10.6" text-anchor="start" fill="#000" stroke="#000" font-weight="bold"  style="">0.6</text>
<text x="574.8" y="67.54000000000002" font-size="10.6" text-anchor="start" fill="#000" stroke="#000" font-weight="bold"  style="">0.8</text>
<text x="574.8" y="15.700000000000012" font-size="10.6" text-anchor="start" fill="#000" stroke="#000" font-weight="bold"  style="">1.0</text>
</g></svg>
</body></html>
